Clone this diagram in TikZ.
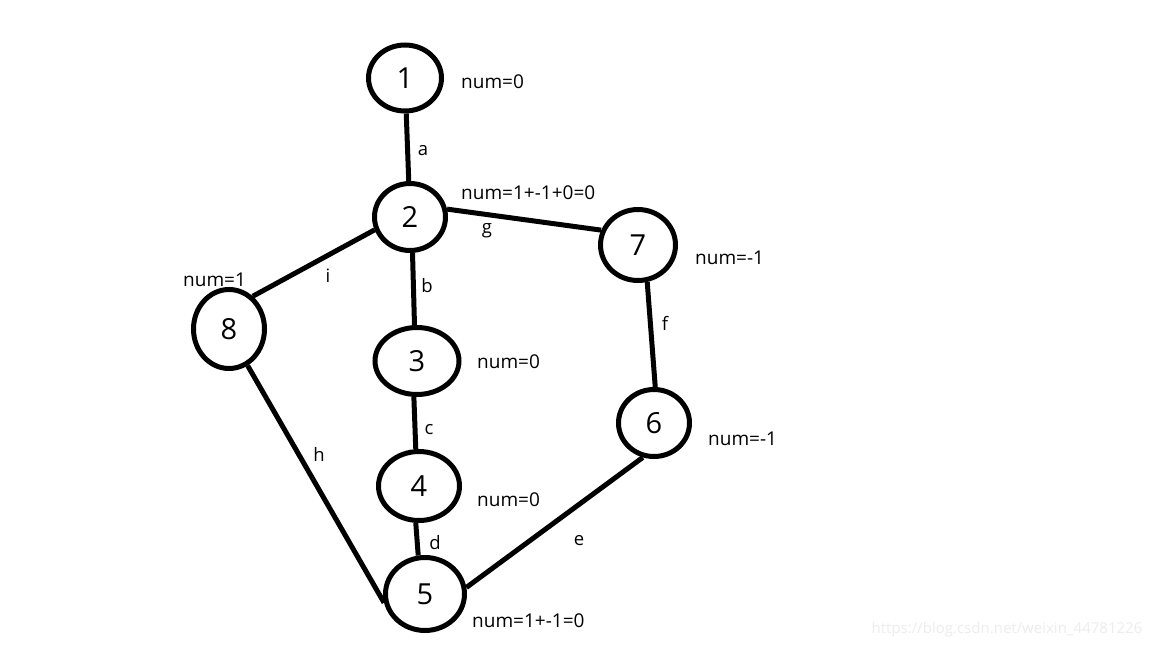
\documentclass[tikz,border=0pt]{standalone}
\usepackage{fontspec}
\setmainfont{Open Sans}
\usetikzlibrary{shapes.geometric}
\begin{document}
\begin{tikzpicture}[x=1pt,y=-1pt,
  vert/.style={ellipse,draw,line width=5pt,inner sep=0pt,font=\fontsize{29}{32}\selectfont},
  edge/.style={line width=5pt},
  lab/.style={inner sep=0pt,font=\fontsize{18.5}{20}\selectfont},
  numlab/.style={inner sep=0pt,anchor=west,font=\fontsize{19}{21}\selectfont}]
\useasboundingbox[fill=white] (0,0) rectangle (1152,648);
\node[vert,minimum width=73pt,minimum height=66pt] (n1) at (405,78) {1};
\node[vert,minimum width=71pt,minimum height=67pt] (n2) at (410,217) {2};
\node[vert,minimum width=75pt,minimum height=71pt] (n7) at (638,245) {7};
\node[vert,minimum width=71pt,minimum height=67pt] (n6) at (654,423) {6};
\node[vert,minimum width=71pt,minimum height=79pt] (n8) at (229,329) {8};
\node[vert,minimum width=84pt,minimum height=67pt] (n3) at (417,361) {3};
\node[vert,minimum width=81pt,minimum height=69pt] (n4) at (419,486) {4};
\node[vert,minimum width=79pt,minimum height=73pt] (n5) at (425,594) {5};
\draw[edge] (n1.-88) -- (n2.92);
\draw[edge] (n2.12) -- (n7.158);
\draw[edge] (n2.200) -- (n8.54);
\draw[edge] (n2.-86) -- (n3.94);
\draw[edge] (n3.-95) -- (n4.95);
\draw[edge] (n4.-95) -- (n5.100);
\draw[edge] (n8.-63) -- (n5.192);
\draw[edge] (n5.9) -- (n6.252);
\draw[edge] (n7.-76) -- (n6.88);
\node[lab] (la) at (423,151) {a};
\node[lab] (lg) at (487,231) {g};
\node[lab] (li) at (328,276) {i};
\node[lab] (lb) at (427,286) {b};
\node[lab] (lc) at (429,430) {c};
\node[lab] (lf) at (665,323) {f};
\node[lab] (lh) at (319,454) {h};
\node[lab] (ld) at (435,543) {d};
\node[lab] (le) at (579,541) {e};
\node[numlab] (m1) at (461,82) {num=0};
\node[numlab] (m2) at (461,193) {num=1+-1+0=0};
\node[numlab] (m7) at (695,258) {num=-1};
\node[numlab] (m8) at (183,280) {num=1};
\node[numlab] (m3) at (477,362) {num=0};
\node[numlab] (m6) at (708,439) {num=-1};
\node[numlab] (m4) at (477,500) {num=0};
\node[numlab] (m5) at (472,621) {num=1+-1=0};
\node[inner sep=0pt,text=black!7,font=\fontsize{15}{17}\selectfont] (wm) at (1007,630) {https://blog.csdn.net/weixin\_44781226};
\end{tikzpicture}
\end{document}
